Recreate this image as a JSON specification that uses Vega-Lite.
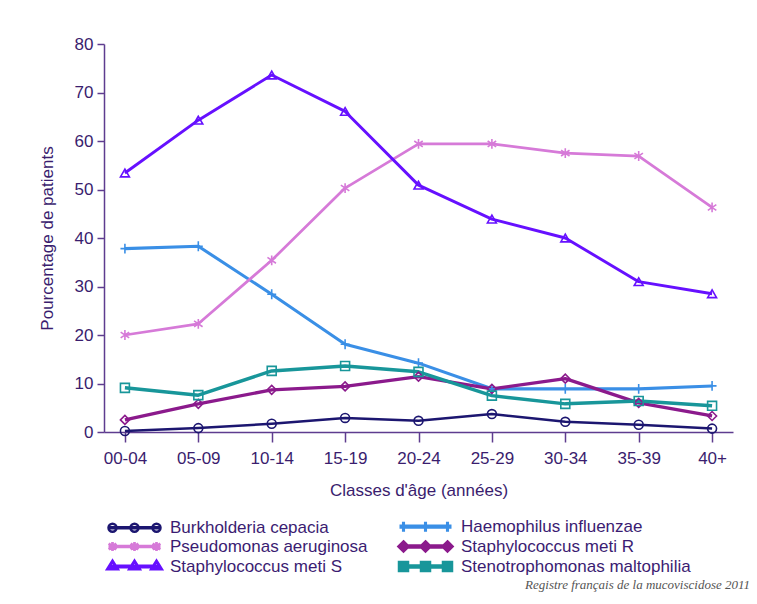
{
  "$schema": "https://vega.github.io/schema/vega-lite/v6.json",
  "width": 629,
  "height": 388,
  "autosize": "none",
  "padding": {"left": 104, "top": 44, "right": 24, "bottom": 172},
  "background": "white",
  "title": {"text": "Registre français de la mucoviscidose 2011", "orient": "bottom", "anchor": "end", "font": "Liberation Serif", "fontStyle": "italic", "fontWeight": "normal", "fontSize": 13, "color": "#555555", "offset": 1, "dx": 17},
  "data": {"values": [
    {"age": "00-04", "series": "Burkholderia cepacia", "value": 0.2},
    {"age": "05-09", "series": "Burkholderia cepacia", "value": 0.8},
    {"age": "10-14", "series": "Burkholderia cepacia", "value": 1.7},
    {"age": "15-19", "series": "Burkholderia cepacia", "value": 2.9},
    {"age": "20-24", "series": "Burkholderia cepacia", "value": 2.3},
    {"age": "25-29", "series": "Burkholderia cepacia", "value": 3.7},
    {"age": "30-34", "series": "Burkholderia cepacia", "value": 2.1},
    {"age": "35-39", "series": "Burkholderia cepacia", "value": 1.5},
    {"age": "40+", "series": "Burkholderia cepacia", "value": 0.7},
    {"age": "00-04", "series": "Haemophilus influenzae", "value": 37.8},
    {"age": "05-09", "series": "Haemophilus influenzae", "value": 38.3},
    {"age": "10-14", "series": "Haemophilus influenzae", "value": 28.4},
    {"age": "15-19", "series": "Haemophilus influenzae", "value": 18.1},
    {"age": "20-24", "series": "Haemophilus influenzae", "value": 14.2},
    {"age": "25-29", "series": "Haemophilus influenzae", "value": 8.9},
    {"age": "30-34", "series": "Haemophilus influenzae", "value": 8.9},
    {"age": "35-39", "series": "Haemophilus influenzae", "value": 8.9},
    {"age": "40+", "series": "Haemophilus influenzae", "value": 9.5},
    {"age": "00-04", "series": "Pseudomonas aeruginosa", "value": 20.0},
    {"age": "05-09", "series": "Pseudomonas aeruginosa", "value": 22.3},
    {"age": "10-14", "series": "Pseudomonas aeruginosa", "value": 35.4},
    {"age": "15-19", "series": "Pseudomonas aeruginosa", "value": 50.3},
    {"age": "20-24", "series": "Pseudomonas aeruginosa", "value": 59.4},
    {"age": "25-29", "series": "Pseudomonas aeruginosa", "value": 59.4},
    {"age": "30-34", "series": "Pseudomonas aeruginosa", "value": 57.5},
    {"age": "35-39", "series": "Pseudomonas aeruginosa", "value": 56.9},
    {"age": "40+", "series": "Pseudomonas aeruginosa", "value": 46.3},
    {"age": "00-04", "series": "Staphylococcus meti R", "value": 2.5},
    {"age": "05-09", "series": "Staphylococcus meti R", "value": 5.8},
    {"age": "10-14", "series": "Staphylococcus meti R", "value": 8.7},
    {"age": "15-19", "series": "Staphylococcus meti R", "value": 9.4},
    {"age": "20-24", "series": "Staphylococcus meti R", "value": 11.4},
    {"age": "25-29", "series": "Staphylococcus meti R", "value": 8.9},
    {"age": "30-34", "series": "Staphylococcus meti R", "value": 11.0},
    {"age": "35-39", "series": "Staphylococcus meti R", "value": 6.0},
    {"age": "40+", "series": "Staphylococcus meti R", "value": 3.3},
    {"age": "00-04", "series": "Staphylococcus meti S", "value": 53.4},
    {"age": "05-09", "series": "Staphylococcus meti S", "value": 64.3},
    {"age": "10-14", "series": "Staphylococcus meti S", "value": 73.6},
    {"age": "15-19", "series": "Staphylococcus meti S", "value": 66.1},
    {"age": "20-24", "series": "Staphylococcus meti S", "value": 50.9},
    {"age": "25-29", "series": "Staphylococcus meti S", "value": 43.9},
    {"age": "30-34", "series": "Staphylococcus meti S", "value": 40.0},
    {"age": "35-39", "series": "Staphylococcus meti S", "value": 31.0},
    {"age": "40+", "series": "Staphylococcus meti S", "value": 28.5},
    {"age": "00-04", "series": "Stenotrophomonas maltophilia", "value": 9.1},
    {"age": "05-09", "series": "Stenotrophomonas maltophilia", "value": 7.6},
    {"age": "10-14", "series": "Stenotrophomonas maltophilia", "value": 12.6},
    {"age": "15-19", "series": "Stenotrophomonas maltophilia", "value": 13.6},
    {"age": "20-24", "series": "Stenotrophomonas maltophilia", "value": 12.4},
    {"age": "25-29", "series": "Stenotrophomonas maltophilia", "value": 7.5},
    {"age": "30-34", "series": "Stenotrophomonas maltophilia", "value": 5.8},
    {"age": "35-39", "series": "Stenotrophomonas maltophilia", "value": 6.4},
    {"age": "40+", "series": "Stenotrophomonas maltophilia", "value": 5.4}
  ]},
  "encoding": {
    "x": {
      "field": "age", "type": "ordinal",
      "sort": ["00-04", "05-09", "10-14", "15-19", "20-24", "25-29", "30-34", "35-39", "40+"],
      "scale": {"type": "point", "padding": 0.285},
      "axis": {"title": "Classes d'âge (années)", "labelAngle": 0, "tickSize": 10, "labelPadding": 8, "titlePadding": 16}
    },
    "y": {
      "field": "value", "type": "quantitative",
      "scale": {"domain": [0, 80], "nice": false},
      "axis": {"title": "Pourcentage de patients", "values": [0, 10, 20, 30, 40, 50, 60, 70, 80], "tickSize": 7, "labelPadding": 4, "titlePadding": 18}
    },
    "color": {
      "field": "series", "type": "nominal",
      "scale": {
        "domain": ["Burkholderia cepacia", "Pseudomonas aeruginosa", "Staphylococcus meti S", "Haemophilus influenzae", "Staphylococcus meti R", "Stenotrophomonas maltophilia"],
        "range": ["#1c1670", "#d67ad8", "#6610ff", "#3a8fe6", "#8b1a8c", "#18969a"]
      },
      "legend": {
        "orient": "none", "legendX": 22, "legendY": 474, "columns": 2, "title": null,
        "labelFont": "Liberation Sans", "labelFontSize": 17, "labelColor": "#3b1c72", "labelLimit": 400,
        "symbolSize": 4, "labelOffset": 27, "rowPadding": -4.5, "columnPadding": 24,
        "symbolStrokeWidth": 1.5, "symbolFillColor": "transparent",
        "encoding": {"symbols": {
          "size": {"value": 4},
          "fill": {"value": "transparent"},
          "fillOpacity": {"value": 0},
          "strokeWidth": {"value": 1.5},
          "opacity": {"value": 1},
          "shape": {"value": {"expr": "(datum.value === 'Burkholderia cepacia' ? 'M-18,0A4,4 0 1,0 -26,0A4,4 0 1,0 -18,0M4,0A4,4 0 1,0 -4,0A4,4 0 1,0 4,0M26,0A4,4 0 1,0 18,0A4,4 0 1,0 26,0' : datum.value === 'Pseudomonas aeruginosa' ? 'M-22,-4.5L-22,4.5M-25.8,-3L-18.2,3M-25.8,3L-18.2,-3M0,-4.5L0,4.5M-3.8,-3L3.8,3M-3.8,3L3.8,-3M22,-4.5L22,4.5M18.2,-3L25.8,3M18.2,3L25.8,-3' : datum.value === 'Staphylococcus meti S' ? 'M-22,-5.5L-27,2.5L-17,2.5ZM0,-5.5L-5,2.5L5,2.5ZM22,-5.5L17,2.5L27,2.5Z' : datum.value === 'Haemophilus influenzae' ? 'M-22,-5L-22,5M0,-5L0,5M22,-5L22,5' : datum.value === 'Staphylococcus meti R' ? 'M-22,-4.5L-17.5,0L-22,4.5L-26.5,0ZM0,-4.5L4.5,0L0,4.5L-4.5,0ZM22,-4.5L26.5,0L22,4.5L17.5,0Z' : 'M-26,-4L-18,-4L-18,4L-26,4ZM-4,-4L4,-4L4,4L-4,4ZM18,-4L26,-4L26,4L18,4Z') + 'M-26,-0.5L26,-0.5M-26,0.5L26,0.5'"}}
        }}
      }
    }
  },
  "layer": [
    {
      "mark": {"type": "line", "strokeJoin": "round"},
      "encoding": {
        "strokeWidth": {
          "field": "series", "type": "nominal", "legend": null,
          "scale": {
            "domain": ["Burkholderia cepacia", "Pseudomonas aeruginosa", "Staphylococcus meti S", "Haemophilus influenzae", "Staphylococcus meti R", "Stenotrophomonas maltophilia"],
            "range": [2.5, 3.5, 3, 3, 2.5, 2.5]
          }
        }
      }
    },
    {
      "mark": {
        "type": "point", "filled": false, "strokeWidth": 1.6, "opacity": 1, "size": 80,
        "shape": {"expr": "datum.series === 'Burkholderia cepacia' ? 'circle' : datum.series === 'Pseudomonas aeruginosa' ? 'M0,-1.1L0,1.1M-0.95,-0.65L0.95,0.65M-0.95,0.65L0.95,-0.65' : datum.series === 'Staphylococcus meti S' ? 'triangle-up' : datum.series === 'Haemophilus influenzae' ? 'M0,-1.1L0,1.1M-1,0L1,0' : datum.series === 'Staphylococcus meti R' ? 'diamond' : 'square'"}
      },
      "encoding": {}
    }
  ],
  "config": {
    "view": {"stroke": null},
    "font": "Liberation Sans",
    "axis": {
      "grid": false,
      "domainColor": "#5e3c8f", "domainWidth": 1.5,
      "tickColor": "#5e3c8f", "tickWidth": 1.5,
      "labelColor": "#3a1d6e", "labelFont": "Liberation Sans", "labelFontSize": 17,
      "titleColor": "#3a1d6e", "titleFont": "Liberation Sans", "titleFontSize": 17, "titleFontWeight": "normal"
    }
  }
}
